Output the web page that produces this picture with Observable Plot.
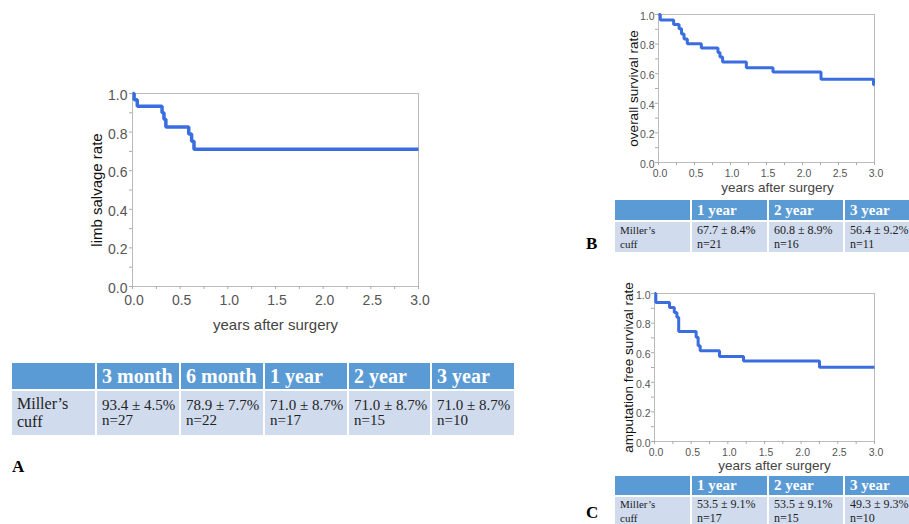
<!DOCTYPE html>
<html><head><meta charset="utf-8">
<script src="https://cdn.jsdelivr.net/npm/d3@7"></script>
<script src="https://cdn.jsdelivr.net/npm/@observablehq/plot@0.6"></script>
<style>
html,body{margin:0;padding:0;width:909px;height:524px;overflow:hidden;background:#fff;}
.panel{position:absolute;}
table.km{position:absolute;border-collapse:collapse;table-layout:fixed;font-family:"Liberation Serif","Times New Roman",serif;}
table.km td{border:2px solid #fff;padding:0 0 0 5px;overflow:hidden;white-space:nowrap;vertical-align:middle;}
table.km tr.h td{background:#5b9bd5;color:#fff;font-weight:bold;}
table.km tr.b td{background:#d0dbee;color:#222;}
.lab{position:absolute;font-family:"Liberation Serif","Times New Roman",serif;font-weight:bold;font-size:17px;line-height:16px;}
</style></head><body>
<script>
// ---- data ----
const timesA = [0, 0.017, 0.05, 0.31, 0.33, 0.35, 0.59, 0.62, 0.645, 3.0];
const survA  = [1.0, 0.967, 0.934, 0.90, 0.867, 0.827, 0.79, 0.752, 0.711, 0.711];
const timesB = [0, 0.025, 0.21, 0.286, 0.32, 0.355, 0.40, 0.595, 0.826, 0.854, 0.89, 1.22, 1.59, 2.257, 2.986, 3.0];
const survB  = [1.0, 0.962, 0.932, 0.903, 0.869, 0.835, 0.803, 0.774, 0.744, 0.713, 0.679, 0.640, 0.611, 0.563, 0.525, 0.525];
const timesC = [0, 0.018, 0.205, 0.27, 0.305, 0.33, 0.568, 0.595, 0.623, 0.886, 1.214, 2.25, 3.0];
const survC  = [1.0, 0.94, 0.906, 0.872, 0.839, 0.743, 0.705, 0.647, 0.613, 0.575, 0.544, 0.501, 0.501];

const xTicks = [0, 0.5, 1.0, 1.5, 2.0, 2.5, 3.0];
const xMinor = [0, 0.25, 0.5, 0.75, 1.0, 1.25, 1.5, 1.75, 2.0, 2.25, 2.5, 2.75, 3.0];
const yTicks = [0, 0.2, 0.4, 0.6, 0.8, 1.0];
const yMinor = [0, 0.1, 0.2, 0.3, 0.4, 0.5, 0.6, 0.7, 0.8, 0.9, 1.0];

const rowLabel = "Miller’s<br>cuff";
const headersA = ["3 month", "6 month", "1 year", "2 year", "3 year"];
const ratesA = ["93.4 ± 4.5%", "78.9 ± 7.7%", "71.0 ± 8.7%", "71.0 ± 8.7%", "71.0 ± 8.7%"];
const nA = [27, 22, 17, 15, 10];
const headersB = ["1 year", "2 year", "3 year"];
const ratesB = ["67.7 ± 8.4%", "60.8 ± 8.9%", "56.4 ± 9.2%"];
const nB = [21, 16, 11];
const headersC = ["1 year", "2 year", "3 year"];
const ratesC = ["53.5 ± 9.1%", "53.5 ± 9.1%", "49.3 ± 9.3%"];
const nC = [17, 15, 10];

const fmt = d3.format(".1f");
const blue = "#3a6ddf";

function km(o) {
  const data = o.t.map((t, i) => ({t, s: o.s[i]}));
  const chart = Plot.plot({
    width: o.w, height: o.h,
    marginLeft: o.ml, marginRight: o.mr, marginTop: o.mt, marginBottom: o.mb,
    x: {domain: [0, 3]},
    y: {domain: [0, 1]},
    style: {fontFamily: "'Liberation Sans', Arial, sans-serif", background: "transparent", overflow: "visible"},
    marks: [
      Plot.frame({stroke: "#bbb"}),
      Plot.axisY(yMinor, {anchor: "left", tickSize: 3, tickFormat: () => "", stroke: "#aaa", label: null}),
      Plot.axisX(xMinor, {anchor: "bottom", tickSize: 3, tickFormat: () => "", stroke: "#aaa", label: null}),
      Plot.axisY(yTicks, {anchor: "left", tickSize: 0, tickPadding: o.ypad, tickFormat: fmt, fontSize: o.fs, fill: "#555", color: "#555", label: null, dy: 2}),
      Plot.axisX(xTicks, {anchor: "bottom", tickSize: 0, tickPadding: o.xpad, tickFormat: fmt, fontSize: o.fsx, fill: "#555", color: "#555", label: null, dx: 1.5}),
      Plot.line(data, {x: "t", y: "s", curve: "step-after", stroke: blue, strokeWidth: o.sw, strokeLinejoin: "miter", strokeLinecap: "butt"}),
      Plot.text([o.ylab], {frameAnchor: "left", rotate: -90, dx: o.ydx, text: d => d, textAnchor: "middle", lineAnchor: "middle", fontSize: o.lfs, fill: "#111"}),
      Plot.text([o.xlab], {frameAnchor: "bottom", dy: o.xdy, dx: o.xdx, text: d => d, textAnchor: "middle", lineAnchor: "middle", fontSize: o.lfsx, fill: "#444"})
    ]
  });
  const div = document.createElement("div");
  div.className = "panel";
  div.style.left = o.left + "px";
  div.style.top = o.top + "px";
  div.appendChild(chart);
  document.body.appendChild(div);
}

km({t: timesA, s: survA, left: 50, top: 80, w: 400, h: 260, ml: 82, mr: 32, mt: 13, mb: 54,
    fs: 14, fsx: 14, ypad: 5, xpad: 9, sw: 3.5, ylab: "limb salvage rate", xlab: "years after surgery",
    ydx: -35, xdx: 0, xdy: 39, lfs: 15, lfsx: 15});
km({t: timesB, s: survB, left: 600, top: 0, w: 300, h: 200, ml: 58, mr: 26, mt: 14, mb: 38,
    fs: 10.5, fsx: 10.5, ypad: 4, xpad: 7, sw: 3, ylab: "overall survival rate", xlab: "years after surgery",
    ydx: -25, xdx: 11, xdy: 25, lfs: 13.5, lfsx: 13.5});
km({t: timesC, s: survC, left: 600, top: 280, w: 300, h: 200, ml: 54, mr: 26, mt: 13, mb: 39,
    fs: 10.5, fsx: 10.5, ypad: 4, xpad: 7, sw: 3, ylab: "amputation free survival rate", xlab: "years after surgery",
    ydx: -26, xdx: 10, xdy: 24, lfs: 13.5, lfsx: 13.5});

function table(o) {
  const t = document.createElement("table");
  t.className = "km";
  t.style.left = o.left + "px";
  t.style.top = o.top + "px";
  t.style.width = d3.sum(o.cols) + "px";
  let html = "<colgroup>" + o.cols.map(c => `<col style="width:${c}px">`).join("") + "</colgroup>";
  html += `<tr class="h" style="height:${o.hh}px"><td></td>` +
    o.headers.map(h => `<td style="font-size:${o.hfs}px">${h}</td>`).join("") + "</tr>";
  html += `<tr class="b" style="height:${o.bh}px"><td style="font-size:${o.ffs}px;line-height:${o.flh}px">${rowLabel}</td>` +
    o.rates.map((r, i) => `<td style="font-size:${o.bfs}px;line-height:${o.blh}px">${r}<br>n=${o.ns[i]}</td>`).join("") + "</tr>";
  t.innerHTML = html;
  document.body.appendChild(t);
}

table({left: 10, top: 361, cols: [85, 84, 84, 84, 83, 84], headers: headersA, rates: ratesA, ns: nA,
       hh: 28, bh: 46, hfs: 20, bfs: 15, blh: 15, ffs: 16, flh: 18});
table({left: 613, top: 198, cols: [77, 77, 76, 77], headers: headersB, rates: ratesB, ns: nB,
       hh: 22, bh: 32, hfs: 15, bfs: 12, blh: 14.5, ffs: 11, flh: 14.5});
table({left: 613, top: 474, cols: [77, 77, 76, 77], headers: headersC, rates: ratesC, ns: nC,
       hh: 21, bh: 30, hfs: 15, bfs: 12, blh: 14, ffs: 11, flh: 14});

function label(txt, x, y) {
  const d = document.createElement("div");
  d.className = "lab";
  d.style.left = x + "px";
  d.style.top = y + "px";
  d.textContent = txt;
  document.body.appendChild(d);
}
label("A", 12, 459);
label("B", 586, 236);
label("C", 586, 505);
</script>
</body></html>
